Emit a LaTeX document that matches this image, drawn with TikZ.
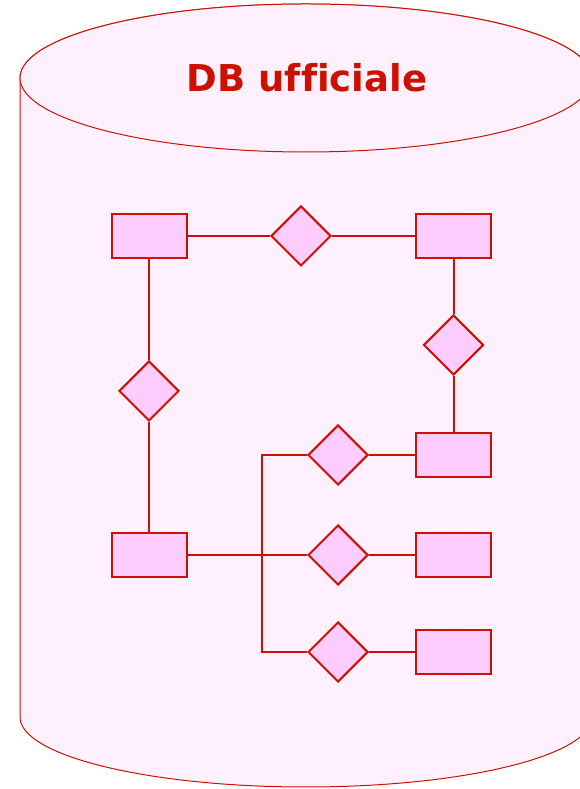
\documentclass[tikz,border=0pt]{standalone}
\usepackage{fontspec}
\setmainfont[Ligatures=NoCommon]{DejaVu Sans}
\usetikzlibrary{shapes.geometric}
\definecolor{dbred}{HTML}{CC1100}
\definecolor{dbfill}{HTML}{FFF0FF}
\definecolor{nodefill}{HTML}{FFCCFF}
\tikzset{
  entity/.style={draw=dbred, fill=nodefill, line width=2pt, rectangle, minimum width=75pt, minimum height=44pt, inner sep=0pt},
  relation/.style={draw=dbred, fill=nodefill, line width=2pt, diamond, minimum width=60pt, minimum height=60pt, inner sep=0pt},
  link/.style={draw=dbred, line width=2pt},
  cyl/.style={draw=dbred, fill=dbfill, line width=1pt}
}
\begin{document}
\begin{tikzpicture}[x=1pt,y=1pt]
\useasboundingbox (0,0) rectangle (580,789);
\clip (0,0) rectangle (580,789);
\path[cyl] (20,711) -- (20,72) arc[start angle=180, end angle=360, x radius=286, y radius=70] -- (592,711) arc[start angle=0, end angle=180, x radius=286, y radius=74] -- cycle;
\draw[cyl] (306,711) ellipse [x radius=286, y radius=74];
\node[text=dbred, font=\bfseries\fontsize{37}{40}\selectfont] (title) at (307,711) {DB ufficiale};

\node[entity] (A) at (149,553) {};
\node[relation] (D1) at (301,553) {};
\node[entity] (B) at (453.5,553) {};
\node[relation] (D2) at (453.5,444) {};
\node[relation] (D3) at (149,398) {};
\node[entity] (C) at (453.5,334) {};
\node[relation] (D4) at (338,334) {};
\node[entity] (E) at (149,234) {};
\node[relation] (D5) at (338,234) {};
\node[entity] (F) at (453.5,234) {};
\node[relation] (D6) at (338,137) {};
\node[entity] (G) at (453.5,137) {};
\coordinate (j1) at (262,334);
\coordinate (j3) at (262,137);

\draw[link] (A) -- (D1) -- (B);
\draw[link] (A) -- (D3) -- (E);
\draw[link] (B) -- (D2) -- (C);
\draw[link] (C) -- (D4) -- (j1) -- (j3) -- (D6) -- (G);
\draw[link] (E) -- (D5) -- (F);
\end{tikzpicture}
\end{document}
